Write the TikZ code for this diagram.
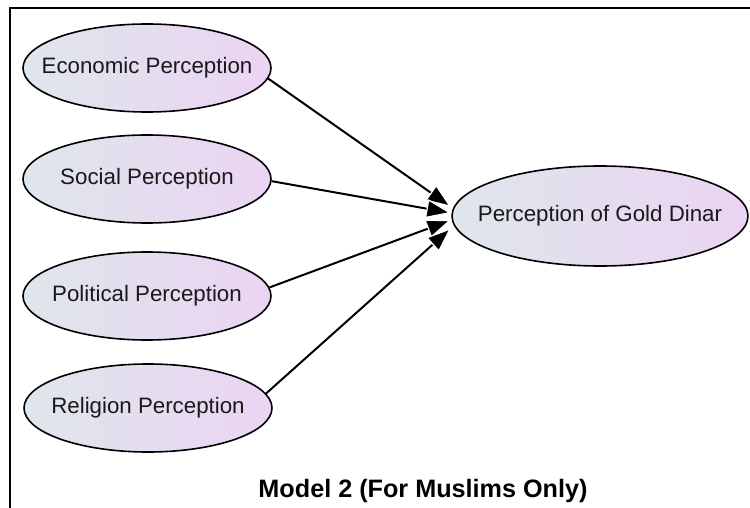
\documentclass[tikz,border=0pt]{standalone}
\usepackage{fontspec}
\setmainfont{Liberation Sans}
\usetikzlibrary{shapes.geometric,arrows.meta}

\definecolor{ellLeft}{RGB}{223,230,236}
\definecolor{ellRight}{RGB}{235,212,243}
\definecolor{txtDark}{RGB}{25,25,25}

\tikzset{
  percep/.style={ellipse, draw, line width=0.8pt, left color=ellLeft, right color=ellRight,
    inner sep=0pt, minimum width=124pt, minimum height=44pt, text=txtDark,
    font=\fontsize{11.15}{13}\selectfont},
  arr/.style={line width=1pt,
    -{Triangle[length=12.5pt,width=9.5pt,color=white,fill=black,line width=0.6pt]}}
}
\newcommand{\ctext}[1]{\makebox[0pt]{#1}}

\begin{document}
\begin{tikzpicture}[x=0.5pt,y=-0.5pt]
    \useasboundingbox (0,0) rectangle (750,508);
    \draw[line width=0.9pt] (750,8) -- (10,8) -- (10,508);

    \node[percep] (eco) at (147,68) {\ctext{Economic Perception}};
    \node[percep] (soc) at (147,179) {\ctext{Social Perception}};
    \node[percep] (pol) at (147,296) {\ctext{Political Perception}};
    \node[percep] (rel) at (148,408) {\ctext{Religion Perception}};
    \node[percep, minimum width=148pt, minimum height=50pt] (gold) at (600,216) {\ctext{Perception of Gold Dinar}};

    \draw[arr] (eco.-5) -- ([yshift=4.5pt]gold.west);
    \draw[arr] (soc.-1) -- ([yshift=1.5pt]gold.west);
    \draw[arr] (pol.4) -- ([yshift=-2pt]gold.west);
    \draw[arr] (rel.7) -- ([yshift=-6pt]gold.west);

    \node[anchor=base, font=\bfseries\fontsize{12.6}{15}\selectfont] (title) at (423,497) {Model 2 (For Muslims Only)};
\end{tikzpicture}
\end{document}
